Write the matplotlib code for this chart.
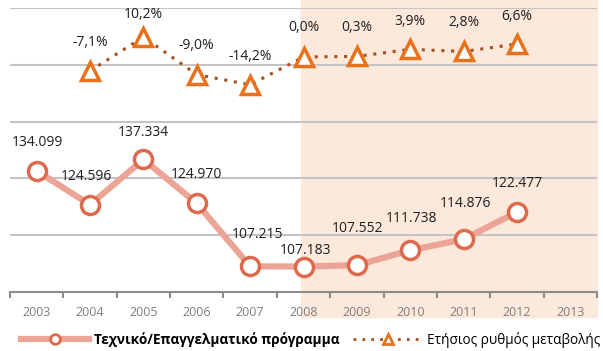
import matplotlib
matplotlib.use("Agg")
import matplotlib.pyplot as plt
from matplotlib.lines import Line2D
from matplotlib.patches import Rectangle

plt.rcParams["font.family"] = ["Open Sans", "DejaVu Sans"]

years = ["2003", "2004", "2005", "2006", "2007", "2008", "2009", "2010", "2011", "2012", "2013"]
students = [134.099, 124.596, 137.334, 124.970, 107.215, 107.183, 107.552, 111.738, 114.876, 122.477]
change = [None, -7.1, 10.2, -9.0, -14.2, 0.0, 0.3, 3.9, 2.8, 6.6]

series_name = "Τεχνικό/Επαγγελματικό πρόγραμμα"
change_name = "Ετήσιος ρυθμός μεταβολής"

# label nudges (x, y in pixels) so neighbouring labels don't collide
student_lbl = [(1, 28), (-4, 28), (0, 27), (0, 29), (7, 32), (2, 16), (1, 37), (1, 32), (2, 36), (0, 29)]
change_lbl = [(0, 28), (0, 22), (0, 29), (0, 28), (0, 29), (0, 29), (0, 28), (0, 29), (0, 28)]

line_col = "#ECA497"
edge_col = "#DE6A4E"
tri_col = "#E8711C"
dot_col = "#A5501A"
shade_col = "#FDE9DC"
txt_col = "#1f1f1f"

fig = plt.figure(figsize=(6.03, 3.51), dpi=100)
px = 72 / fig.dpi

# forecast-period shading behind everything, spills under the year labels
fig.patches.append(Rectangle((301 / 603, 1 - 317 / 351), 296 / 603, 317 / 351,
                             transform=fig.transFigure, color=shade_col, zorder=-1))

ax = fig.add_axes([10 / 603, 1 - 292 / 351, 587 / 603, 284 / 351])
ax.patch.set_alpha(0)
ax2 = ax.twinx()

x = list(range(len(students)))
ax.set_xlim(-0.5, len(years) - 0.5)
ax.set_ylim(100, 180)
ax.set_yticks([100, 116, 132, 148, 164, 180])
ax.yaxis.grid(True, color="#C4C4C4", linewidth=1.5)
ax.set_axisbelow(True)
ax.tick_params(axis="y", left=False, labelleft=False)

ax.set_xticks([i - 0.5 for i in range(len(years) + 1)])
ax.set_xticklabels([])
ax.set_xticks(range(len(years)), minor=True)
ax.set_xticklabels(years, minor=True)
ax.tick_params(axis="x", which="major", direction="out", length=4, width=1.5, color="#8C8C8C")
ax.tick_params(axis="x", which="minor", length=0, labelsize=9, labelcolor="#7F7F7F", pad=10)

for s in ["top", "left", "right"]:
    ax.spines[s].set_visible(False)
    ax2.spines[s].set_visible(False)
ax.spines["bottom"].set_color("#8C8C8C")
ax.spines["bottom"].set_linewidth(1.5)
ax2.spines["bottom"].set_visible(False)

ax.plot(x, students, color=line_col, linewidth=4.5, marker="o", markersize=13,
        markerfacecolor="white", markeredgecolor=edge_col, markeredgewidth=2.5,
        zorder=3, clip_on=False)
for xi, v, (dx, dy) in zip(x, students, student_lbl):
    ax.annotate(f"{v:.3f}", (xi, v), xytext=(dx * px, dy * px), textcoords="offset points",
                ha="center", va="center", fontsize=10, color=txt_col)

cx = [i for i, c in enumerate(change) if c is not None]
cv = [c for c in change if c is not None]
ax2.set_ylim(-120, 25)
ax2.tick_params(axis="y", right=False, labelright=False)
ax2.plot(cx, cv, color=dot_col, linewidth=2.2, linestyle=(0, (1, 2.2)),
         marker="^", markersize=13, markerfacecolor="white",
         markeredgecolor=tri_col, markeredgewidth=2.5, zorder=3, clip_on=False)
for xi, v, (dx, dy) in zip(cx, cv, change_lbl):
    ax2.annotate(f"{v:.1f}%".replace(".", ","), (xi, v), xytext=(dx * px, dy * px),
                 textcoords="offset points", ha="center", va="center",
                 fontsize=10, color=txt_col)

handles = [
    Line2D([], [], color=line_col, linewidth=4.5, marker="o", markersize=7,
           markerfacecolor="white", markeredgecolor=edge_col, markeredgewidth=2),
    Line2D([], [], color=dot_col, linewidth=2, linestyle=(0, (1, 2.2)),
           marker="^", markersize=7, markerfacecolor="white",
           markeredgecolor=tri_col, markeredgewidth=2),
]
leg = fig.legend(handles, [series_name, change_name], loc="center",
                 bbox_to_anchor=(0.515, 1 - 340 / 351), ncol=2, frameon=False,
                 fontsize=9.8, handlelength=5.0, columnspacing=1.0,
                 handletextpad=0.4)
leg.get_texts()[0].set_fontweight("bold")

fig.savefig("out.png", dpi=100)
